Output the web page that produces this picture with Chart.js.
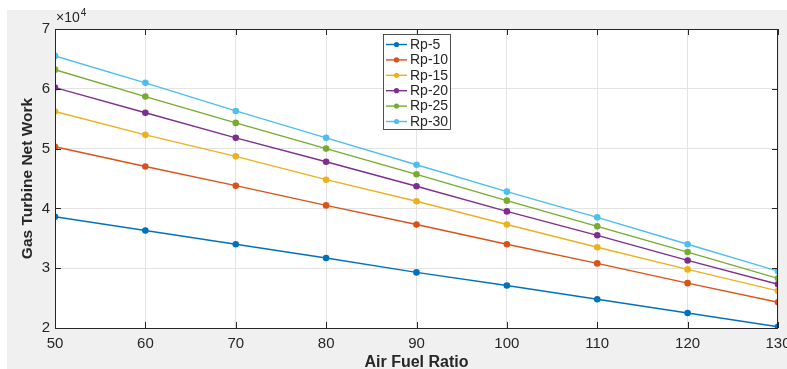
<!DOCTYPE html>
<html>
<head>
<meta charset="utf-8">
<script src="https://cdn.jsdelivr.net/npm/chart.js@4.4.1/dist/chart.umd.min.js"></script>
<style>
  html, body { margin: 0; padding: 0; background: #fff; }
</style>
</head>
<body>
<canvas id="myChart" width="787" height="369"></canvas>
<script>
// data (x = air fuel ratio, y = net work)
const airFuel = [50, 60, 70, 80, 90, 100, 110, 120, 130];
const rp5  = [38600, 36300, 34000, 31700, 29300, 27100, 24800, 22500, 20200];
const rp10 = [50300, 47000, 43800, 40500, 37300, 34000, 30800, 27500, 24300];
const rp15 = [56200, 52300, 48700, 44800, 41200, 37300, 33500, 29800, 26200];
const rp20 = [60200, 56000, 51800, 47800, 43700, 39500, 35500, 31300, 27300];
const rp25 = [63200, 58700, 54300, 50000, 45700, 41300, 37000, 32700, 28300];
const rp30 = [65500, 61000, 56300, 51800, 47300, 42800, 38500, 34000, 29500];
const seriesNames = ["Rp-5", "Rp-10", "Rp-15", "Rp-20", "Rp-25", "Rp-30"];
const seriesColors = ["#0072BD", "#D95319", "#EDB120", "#7E2F8E", "#77AC30", "#4DBEEE"];
const yTickValues = [20000, 30000, 40000, 50000, 60000, 70000];

const allSeries = [rp5, rp10, rp15, rp20, rp25, rp30];
const textColor = "#262626";

const datasets = allSeries.map((vals, i) => ({
  label: seriesNames[i],
  data: vals.map((v, j) => ({ x: airFuel[j], y: v })),
  borderColor: seriesColors[i],
  backgroundColor: seriesColors[i],
  borderWidth: 1.4,
  pointRadius: 2.6,
  pointHoverRadius: 2.6,
  tension: 0
}));

// grey figure, white axes, box, tick marks, exponent and legend
const matlabLook = {
  id: "matlabLook",
  beforeDraw(chart) {
    const c = chart.ctx, a = chart.chartArea;
    c.save();
    c.fillStyle = "#fff";
    c.fillRect(0, 0, chart.width, chart.height);
    c.fillStyle = "#f0f0f0";
    c.fillRect(7, 10, chart.width - 7, chart.height - 10);
    c.fillStyle = "#fff";
    c.fillRect(a.left, a.top, a.right - a.left, a.bottom - a.top);
    c.restore();
  },
  afterDraw(chart) {
    const c = chart.ctx, a = chart.chartArea;
    const xs = chart.scales.x, ys = chart.scales.y;
    c.save();
    c.strokeStyle = textColor;
    c.lineWidth = 1;
    c.strokeRect(a.left + 0.5, a.top + 0.5, a.right - a.left - 1, a.bottom - a.top);

    // inward tick marks
    c.beginPath();
    airFuel.forEach(v => {
      const px = Math.round(xs.getPixelForValue(v)) + 0.5;
      c.moveTo(px, a.bottom); c.lineTo(px, a.bottom - 6);
      c.moveTo(px, a.top); c.lineTo(px, a.top + 6);
    });
    yTickValues.forEach(v => {
      const py = Math.round(ys.getPixelForValue(v)) + 0.5;
      c.moveTo(a.left, py); c.lineTo(a.left + 6, py);
      c.moveTo(a.right, py); c.lineTo(a.right - 6, py);
    });
    c.stroke();

    // x10^4
    c.fillStyle = textColor;
    c.textBaseline = "middle";
    c.textAlign = "left";
    c.font = "14px 'Liberation Sans', Arial, sans-serif";
    c.fillText("\u00d710", a.left + 1, a.top - 11);
    const w = c.measureText("\u00d710").width;
    c.font = "10px 'Liberation Sans', Arial, sans-serif";
    c.fillText("4", a.left + 1 + w + 1, a.top - 16);

    // legend box
    const lx = a.left + 328, ly = a.top + 5, lw = 67, lh = 95;
    c.fillStyle = "#fff";
    c.fillRect(lx, ly, lw, lh);
    c.strokeStyle = "#262626";
    c.lineWidth = 0.8;
    c.strokeRect(lx + 0.5, ly + 0.5, lw, lh);
    c.font = "14px 'Liberation Sans', Arial, sans-serif";
    seriesNames.forEach((name, i) => {
      const y = ly + 10.5 + i * 15.4;
      c.strokeStyle = seriesColors[i];
      c.fillStyle = seriesColors[i];
      c.lineWidth = 1.4;
      c.beginPath();
      c.moveTo(lx + 3, y); c.lineTo(lx + 24, y);
      c.stroke();
      c.beginPath();
      c.arc(lx + 13.5, y, 2.6, 0, Math.PI * 2);
      c.fill();
      c.fillStyle = textColor;
      c.fillText(name, lx + 27, y + 0.5);
    });
    c.restore();
  }
};

const ctx = document.getElementById("myChart");

new Chart(ctx, {
  type: "line",
  data: { datasets: datasets },
  options: {
    responsive: false,
    animation: false,
    devicePixelRatio: 1,
    layout: { padding: { left: 8, right: 9, top: 29, bottom: 0 } },
    plugins: {
      legend: { display: false },
      tooltip: { enabled: false }
    },
    scales: {
      x: {
        type: "linear",
        min: 50,
        max: 130,
        afterFit: (scale) => {
          scale.height = 41;
          scale.paddingLeft = 0;
          scale.paddingRight = 0;
        },
        afterBuildTicks: (scale) => { scale.ticks = airFuel.map(v => ({ value: v })); },
        grid: { color: "#e3e3e3", drawTicks: false },
        border: { display: false },
        ticks: {
          color: textColor,
          padding: 7,
          maxRotation: 0,
          font: { family: "'Liberation Sans', Arial, sans-serif", size: 15 }
        },
        title: {
          display: true,
          text: "Air Fuel Ratio",
          color: textColor,
          padding: { top: 0, bottom: -3 },
          font: { family: "'Liberation Sans', Arial, sans-serif", size: 16, weight: "bold" }
        }
      },
      y: {
        min: 20000,
        max: 70000,
        afterFit: (scale) => { scale.width = 47; },
        afterBuildTicks: (scale) => { scale.ticks = yTickValues.map(v => ({ value: v })); },
        grid: { color: "#e3e3e3", drawTicks: false },
        border: { display: false },
        ticks: {
          color: textColor,
          padding: 5,
          callback: (v) => v / 10000,
          font: { family: "'Liberation Sans', Arial, sans-serif", size: 15 }
        },
        title: {
          display: true,
          text: "Gas Turbine Net Work",
          color: textColor,
          padding: { top: 10, bottom: 0 },
          font: { family: "'Liberation Sans', Arial, sans-serif", size: 15.5, weight: "bold" }
        }
      }
    }
  },
  plugins: [matlabLook]
});
</script>
</body>
</html>
